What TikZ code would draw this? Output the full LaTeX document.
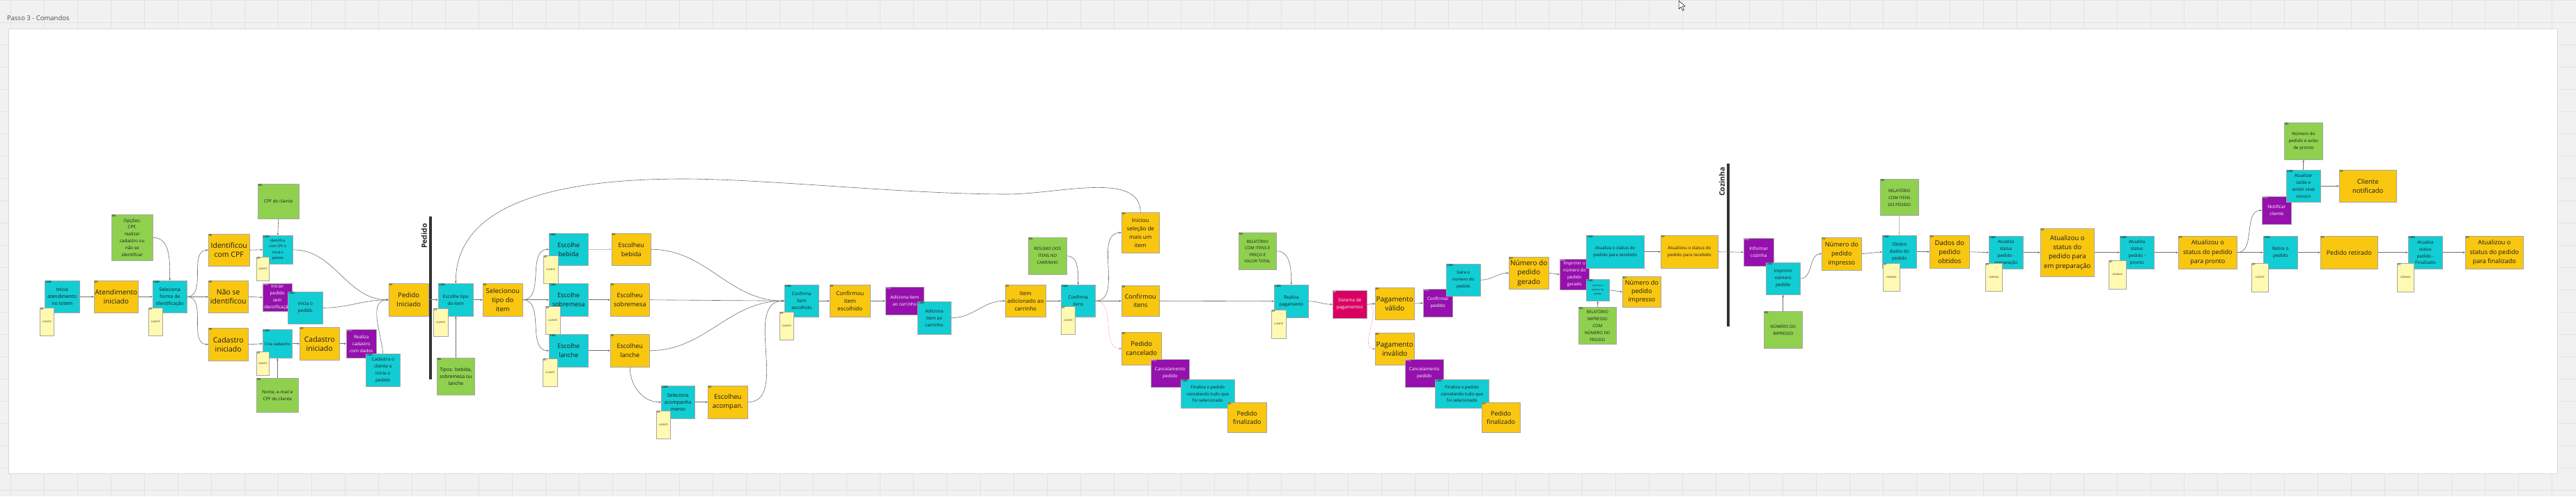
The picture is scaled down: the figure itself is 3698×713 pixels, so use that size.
\documentclass[tikz,border=0pt]{standalone}
\usepackage{fontspec}
\setmainfont{Open Sans}
\usetikzlibrary{arrows.meta}
\definecolor{cmdc}{HTML}{12CDD4}
\definecolor{evc}{HTML}{FAC710}
\definecolor{polc}{HTML}{9510AC}
\definecolor{mlc}{HTML}{8FD14F}
\definecolor{atc}{HTML}{FFF9B1}
\definecolor{sec}{HTML}{DA0063}
\definecolor{bgc}{HTML}{F1F1F1}
\definecolor{gridc}{HTML}{E2E2E2}
\definecolor{linec}{HTML}{707070}
\definecolor{txtc}{HTML}{1A1A1A}
\newcommand\fs[2]{\fontsize{#1}{#2}\selectfont}
\newcommand\stk[7]{\node[#1,minimum width=#5pt,minimum height=#6pt] (#2) at (#3,#4) {#7};}
\begin{document}
\begin{tikzpicture}[x=1pt,y=-1pt,
  tagl/.style={anchor=north west,inner sep=0.8pt,font=\fs{4}{4.5},text=black},
  note/.style={anchor=north west,draw=black!35,line width=0.5pt,align=center,inner sep=1pt,text=txtc},
  cmd/.style={note,fill=cmdc,font=\fs{6.5}{10},label={[tagl]north west:CMD}},
  ev/.style={note,fill=evc,font=\fs{9.5}{13},label={[tagl]north west:EV}},
  pol/.style={note,fill=polc,text=white,font=\fs{6.5}{10},label={[tagl,text=white]north west:POL}},
  ml/.style={note,fill=mlc,font=\fs{6.3}{10},label={[tagl]north west:ML}},
  actor/.style={note,fill=atc,font=\fs{3.3}{4},label={[tagl]north west:AT}},
  extsys/.style={note,fill=sec,text=white,font=\fs{6.5}{10},label={[tagl,text=white]north west:SE}},
  arr/.style={draw=linec,line width=0.6pt,-{Stealth[length=3.5pt,width=2.8pt]}},
  redarr/.style={draw=red!65!white,line width=0.8pt,dotted,-{Stealth[length=3.5pt,width=2.8pt]}},
  bar/.style={line width=3.6pt,draw=black!80},
  lbl/.style={rotate=90,font=\bfseries\fs{10.5}{12},text=black!85}]
\useasboundingbox (0,0) rectangle (3698,713);
% background
\fill[bgc] (0,0) rectangle (3698,713);
\foreach \i in {15,63,...,3698} \draw[gridc,line width=0.5pt] (\i,0) -- (\i,713);
\foreach \j in {0,32,...,713} \draw[gridc,line width=0.5pt] (0,\j) -- (3698,\j);
\fill[white] (12,41) rectangle (3671,680);
\draw[black!15,line width=0.5pt] (12,41) rectangle (3671,680);
\node[anchor=base west,font=\fs{9.5}{11},text=black!70,inner sep=0] (title) at (10,29) {Passo 3 - Comandos};
\draw[fill=white,line width=0.5pt] (2410,1) -- (2410,13) -- (2413,10) -- (2415.5,15) -- (2417.5,14) -- (2415,9) -- (2419,9) -- cycle;
% bars
\draw[bar] (618,311) -- (618,545);
\node[lbl] (pedlbl) at (609,339) {Pedido};
\draw[bar] (2481,235) -- (2481,469);
\node[lbl] (cozlbl) at (2472,261) {Cozinha};
% ---- notes ----
\stk{cmd,font=\fs{7}{10}}{n1}{64}{403}{50}{46}{Inicia\\atendimento\\no totem}
\stk{actor}{a1}{57}{442}{20}{40}{CLIENTE}
\stk{ev,font=\fs{10}{13.3}}{e1}{135}{403}{63}{46}{Atendimento\\iniciado}
\stk{ml,font=\fs{6.5}{9.8}}{m1}{160}{308}{59}{66}{Opções:\\CPF,\\realizar\\cadastro ou\\não se\\identificar}
\stk{cmd,font=\fs{6.8}{10}}{n2}{219}{403}{49}{46}{Seleciona\\forma de\\identificação}
\stk{actor}{a2}{213}{442}{20}{40}{CLIENTE}
\stk{ev,font=\fs{10.5}{13.3}}{e2}{299}{336}{59}{46}{Identificou\\com CPF}
\stk{ev,font=\fs{10.5}{13.3}}{e3}{299}{403}{57}{46}{Não se\\identificou}
\stk{ev,font=\fs{10.5}{13.3}}{e4}{299}{471}{57}{47}{Cadastro\\iniciado}
\stk{ml}{m2}{370}{264}{59}{50}{CPF do cliente}
\stk{cmd,font=\fs{5}{8.6}}{n3}{377}{338}{43}{41}{Identifica\\com CPF e\\inicia o\\pedido}
\stk{actor}{a3}{368}{369}{18}{34}{CLIENTE}
\stk{pol}{p1}{377}{407}{42}{40}{Iniciar\\pedido\\sem\\identificação}
\stk{cmd}{n4}{413}{419}{50}{46}{Inicia o\\pedido}
\stk{cmd,font=\fs{6}{8}}{n5}{377}{473}{42}{41}{Cria cadastro}
\stk{actor}{a4}{368}{505}{18}{34}{CLIENTE}
\stk{ml}{m3}{368}{543}{60}{49}{Nome, e-mail e\\CPF do cliente}
\stk{ev,font=\fs{10.5}{13.3}}{e5}{430}{470}{57}{47}{Cadastro\\iniciado}
\stk{pol}{p2}{497}{473}{43}{41}{Realiza\\cadastro\\com dados}
\stk{cmd}{n6}{525}{508}{49}{47}{Cadastra o\\cliente e\\inicia o\\pedido}
\stk{ev}{e6}{558}{407}{57}{47}{Pedido\\Iniciado}
\stk{cmd}{n7}{629}{407}{50}{47}{Escolhe tipo\\do item}
\stk{actor}{a5}{622}{443}{21}{40}{CLIENTE}
\stk{ml,font=\fs{7}{10}}{m4}{627}{514}{54}{53}{Tipos: bebida,\\sobremesa ou\\lanche}
\stk{ev,font=\fs{9.5}{13.3}}{e7}{693}{407}{57}{47}{Selecionou\\tipo do\\item}
\stk{cmd,font=\fs{9}{13}}{n8}{788}{335}{56}{46}{Escolhe\\bebida}
\stk{actor}{a6}{780}{367}{21}{40}{CLIENTE}
\stk{cmd,font=\fs{9}{13}}{n9}{788}{407}{56}{47}{Escolhe\\sobremesa}
\stk{actor}{a7}{783}{440}{21}{40}{CLIENTE}
\stk{cmd,font=\fs{9}{13}}{n10}{788}{480}{56}{47}{Escolhe\\lanche}
\stk{actor}{a8}{779}{515}{21}{40}{CLIENTE}
\stk{ev,font=\fs{9}{13}}{e8}{878}{335}{56}{46}{Escolheu\\bebida}
\stk{ev,font=\fs{9}{13}}{e9}{876}{407}{56}{47}{Escolheu\\sobremesa}
\stk{ev,font=\fs{9}{13}}{e10}{876}{480}{56}{47}{Escolheu\\lanche}
\stk{cmd,font=\fs{7}{10}}{n11}{949}{554}{48}{47}{Seleciona\\acompanha\\mento}
\stk{actor}{a9}{942}{590}{20}{40}{CLIENTE}
\stk{ev}{e11}{1016}{554}{57}{47}{Escolheu\\acompan.}
\stk{cmd}{n12}{1126}{409}{49}{46}{Confirma\\item\\escolhido}
\stk{actor}{a10}{1119}{448}{20}{40}{CLIENTE}
\stk{ev,font=\fs{8}{11}}{e12}{1191}{409}{58}{46}{Confirmou\\item\\escolhido}
\stk{pol}{p3}{1271}{412}{55}{40}{Adiciona item\\ao carrinho}
\stk{cmd}{n13}{1317}{433}{48}{47}{Adiciona\\item ao\\carrinho}
\stk{ev,font=\fs{8}{11}}{e13}{1443}{409}{58}{46}{Item\\adicionado ao\\carrinho}
\stk{ml,font=\fs{6}{10}}{m5}{1476}{341}{55}{53}{RESUMO DOS\\ITENS NO\\CARRINHO}
\stk{cmd}{n14}{1523}{409}{49}{46}{Confirma\\itens}
\stk{actor}{a11}{1523}{440}{20}{40}{CLIENTE}
\stk{ev,font=\fs{8}{12}}{e14}{1610}{305}{54}{58}{Iniciou\\seleção de\\mais um\\item}
\stk{ev,font=\fs{9}{12}}{e15}{1610}{410}{54}{44}{Confirmou\\itens}
\stk{ev}{e16}{1610}{477}{57}{47}{Pedido\\cancelado}
\stk{pol}{p4}{1652}{516}{55}{40}{Cancelamento\\pedido}
\stk{cmd,font=\fs{6.2}{9.8}}{n15}{1695}{545}{77}{41}{Finaliza o pedido\\cancelando tudo que\\foi selecionado}
\stk{ev,font=\fs{9}{12}}{e17}{1762}{578}{56}{43}{Pedido\\finalizado}
\stk{ml,font=\fs{6}{9.5}}{m6}{1778}{334}{54}{53}{RELATÓRIO\\COM ITENS E\\PREÇO E\\VALOR TOTAL}
\stk{cmd}{n16}{1829}{409}{49}{47}{Realiza\\pagamento}
\stk{actor}{a12}{1825}{445}{21}{41}{CLIENTE}
\stk{extsys}{s1}{1913}{417}{49}{40}{Sistema de\\pagamentos}
\stk{ev,font=\fs{10}{13}}{e18}{1974}{413}{56}{46}{Pagamento\\válido}
\stk{ev,font=\fs{10}{13}}{e19}{1974}{478}{56}{46}{Pagamento\\inválido}
\stk{pol}{p5}{2043}{415}{42}{40}{Confirmar\\pedido}
\stk{cmd,font=\fs{6}{10}}{n17}{2076}{379}{49}{46}{Gera o\\número do\\pedido}
\stk{ev,font=\fs{10}{13.3}}{e20}{2166}{369}{57}{46}{Número do\\pedido\\gerado}
\stk{pol}{p6}{2017}{516}{55}{40}{Cancelamento\\pedido}
\stk{cmd,font=\fs{6.2}{9.8}}{n18}{2060}{545}{77}{41}{Finaliza o pedido\\cancelando tudo que\\foi selecionado}
\stk{ev,font=\fs{9}{12}}{e21}{2127}{578}{55}{43}{Pedido\\finalizado}
\stk{pol,font=\fs{6.3}{10}}{p7}{2239}{372}{42}{44}{Imprimir o\\número do\\pedido\\gerado}
\stk{cmd,font=\fs{6.3}{10}}{n19}{2277}{338}{83}{47}{Atualiza o status do\\pedido para recebido}
\stk{cmd,font=\fs{3.3}{6.3}}{n20}{2277}{401}{33}{31}{Imprime o\\número do\\pedido}
\stk{ml,font=\fs{6}{9.8}}{m7}{2266}{441}{54}{53}{RELATÓRIO\\IMPRESSO\\COM\\NÚMERO DO\\PEDIDO}
\stk{ev,font=\fs{9}{12}}{e22}{2329}{397}{55}{44}{Número do\\pedido\\impresso}
\stk{ev,font=\fs{6.3}{10}}{e23}{2384}{338}{82}{47}{Atualizou o status do\\pedido para recebido}
\stk{pol}{p8}{2503}{342}{43}{40}{Informar\\cozinha}
\stk{cmd}{n21}{2535}{377}{49}{46}{Imprimir\\número\\pedido}
\stk{ml,font=\fs{6}{10}}{m8}{2532}{447}{55}{53}{NÚMERO DO\\IMPRESSO}
\stk{ev,font=\fs{9}{13}}{e24}{2615}{341}{57}{47}{Número do\\pedido\\impresso}
\stk{ml,font=\fs{6}{10}}{m9}{2699}{257}{55}{52}{RELATÓRIO\\COM ITENS\\DO PEDIDO}
\stk{cmd}{n22}{2702}{338}{49}{47}{Obtém\\dados do\\pedido}
\stk{actor}{a13}{2703}{378}{24}{40}{COZINHA}
\stk{ev,font=\fs{9.5}{13}}{e25}{2770}{338}{57}{47}{Dados do\\pedido\\obtidos}
\stk{cmd,font=\fs{6.3}{9.8}}{n23}{2855}{339}{49}{47}{Atualiza\\status\\pedido -\\preparação}
\stk{actor}{a14}{2850}{378}{24}{40}{COZINHA}
\stk{ev,font=\fs{9.5}{13.3}}{e26}{2929}{328}{77}{69}{Atualizou o\\status do\\pedido para\\em preparação}
\stk{cmd,font=\fs{6.3}{9.8}}{n24}{3043}{339}{49}{47}{Atualiza\\status\\pedido -\\pronto}
\stk{actor}{a15}{3027}{374}{25}{41}{COZINHA}
\stk{ev,font=\fs{9}{13.3}}{e27}{3127}{339}{84}{47}{Atualizou o\\status do pedido\\para pronto}
\stk{pol}{p9}{3247}{282}{42}{40}{Notificar\\cliente}
\stk{cmd,font=\fs{6.3}{9.8}}{n25}{3282}{244}{49}{46}{Atualizar\\saída e\\emitir sinal\\sonoro}
\stk{ml}{m10}{3279}{176}{55}{53}{Número do\\pedido e aviso\\de pronto}
\stk{ev,font=\fs{9.5}{13.3}}{e28}{3358}{244}{82}{46}{Cliente\\notificado}
\stk{cmd}{n26}{3249}{339}{49}{47}{Retira o\\pedido}
\stk{actor}{a16}{3232}{378}{24}{41}{CLIENTE}
\stk{ev,font=\fs{9}{12}}{e29}{3331}{339}{82}{47}{Pedido retirado}
\stk{cmd,font=\fs{6.3}{9.8}}{n27}{3457}{339}{49}{47}{Atualiza\\status\\pedido -\\Finalizado}
\stk{actor}{a17}{3441}{378}{24}{41}{COZINHA}
\stk{ev,font=\fs{9}{13.3}}{e30}{3539}{339}{83}{47}{Atualizou o\\status do pedido\\para finalizado}
% ---- connectors ----
\draw[arr] (n1.east) -- (e1.west);
\draw[arr] (e1.east) -- (n2.west);
\draw[arr] (m1.east) to[out=0,in=90] (n2.north);
\draw[arr] (n2.east) to[out=0,in=180] (e2.west);
\draw[arr] (n2.east) -- (e3.west);
\draw[arr] (n2.east) to[out=0,in=180] (e4.west);
\draw[arr] (e2.east) -- (n3.west);
\draw[arr] (m2.south) -- (n3.north);
\draw[arr] (n3.east) to[out=0,in=180] (e6.west);
\draw[arr] (e3.east) -- (p1.west);
\draw[arr] (n4.east) to[out=0,in=180] (e6.west);
\draw[arr] (e4.east) -- (n5.west);
\draw[arr] (m3.north) -- (n5.south);
\draw[arr] (n5.east) -- (e5.west);
\draw[arr] (e5.east) -- (p2.west);
\draw[arr] (n6.north) to[out=95,in=180] (e6.west);
\draw[arr] (e6.east) -- (n7.west);
\draw[arr] (m4.north) -- (n7.south);
\draw[arr] (n7.east) -- (e7.west);
\draw[arr] (e7.east) to[out=0,in=180] (n8.west);
\draw[arr] (e7.east) -- (n9.west);
\draw[arr] (e7.east) to[out=0,in=180] (n10.west);
\draw[arr,line width=1.2pt,draw=black!25] (n8.east) -- (e8.west);
\draw[arr] (n9.east) -- (e9.west);
\draw[arr] (n10.east) -- (e10.west);
\draw[arr] (e8.east) to[out=0,in=180] (n12.west);
\draw[arr] (e9.east) -- (n12.west);
\draw[arr] (e10.east) to[out=0,in=180] (n12.west);
\draw[arr] (e10.south) to[out=-90,in=180] (n11.west);
\draw[arr] (n11.east) -- (e11.west);
\draw[arr] (e11.east) to[out=0,in=180] (n12.west);
\draw[arr] (n12.east) -- (e12.west);
\draw[arr] (e12.east) -- (p3.west);
\draw[arr] (n13.east) to[out=0,in=180] (e13.west);
\draw[arr] (e13.east) -- (n14.west);
\draw[arr] (m5.east) to[out=0,in=90] (n14.north);
\draw[arr] (n14.east) to[out=0,in=180] (e14.west);
\draw[arr] (n14.east) -- (e15.west);
\draw[redarr] (n14.east) to[out=0,in=180] (e16.west);
\coordinate (lp1) at (1445,279);
\coordinate (lp2) at (981,257);
\draw[arr] (e14.north) .. controls (1637,245) and (1520,279) .. (lp1) .. controls (1300,279) and (1100,257) .. (lp2) .. controls (780,257) and (654,300) .. (n7.north);
\draw[arr] (e15.east) -- (n16.west);
\draw[arr] (m6.east) to[out=0,in=90] (n16.north);
\draw[arr] (n16.east) to[out=0,in=180] (s1.west);
\draw[arr] (s1.east) -- (e18.west);
\draw[redarr] (s1.east) to[out=0,in=180] (e19.west);
\draw[arr] (e18.east) -- (p5.west);
\draw[arr] (n17.east) to[out=0,in=180] (e20.west);
\draw[arr] (e20.east) -- (p7.west);
\draw[arr] (n20.east) -- (e22.west);
\draw[arr] (m7.north) -- (n20.south);
\draw[arr] (n19.east) -- (e23.west);
\draw[arr] (e23.east) -- (p8.west);
\draw[arr] (n21.east) to[out=0,in=180] (e24.west);
\draw[arr] (m8.north) -- (n21.south);
\draw[arr] (e24.east) -- (n22.west);
\draw[arr,line width=1.3pt,draw=black!25] (m9.south) -- (n22.north);
\draw[arr] (n22.east) -- (e25.west);
\draw[arr] (e25.east) -- (n23.west);
\draw[arr] (n23.east) -- (e26.west);
\draw[arr] (e26.east) -- (n24.west);
\draw[arr] (n24.east) -- (e27.west);
\draw[arr] (e27.east) to[out=0,in=180] (p9.west);
\draw[arr] (e27.east) -- (n26.west);
\draw[arr] (n25.north) -- (m10.south);
\draw[arr] (n25.east) -- (e28.west);
\draw[arr] (n26.east) -- (e29.west);
\draw[arr] (e29.east) -- (n27.west);
\draw[arr] (n27.east) -- (e30.west);
\end{tikzpicture}
\end{document}
